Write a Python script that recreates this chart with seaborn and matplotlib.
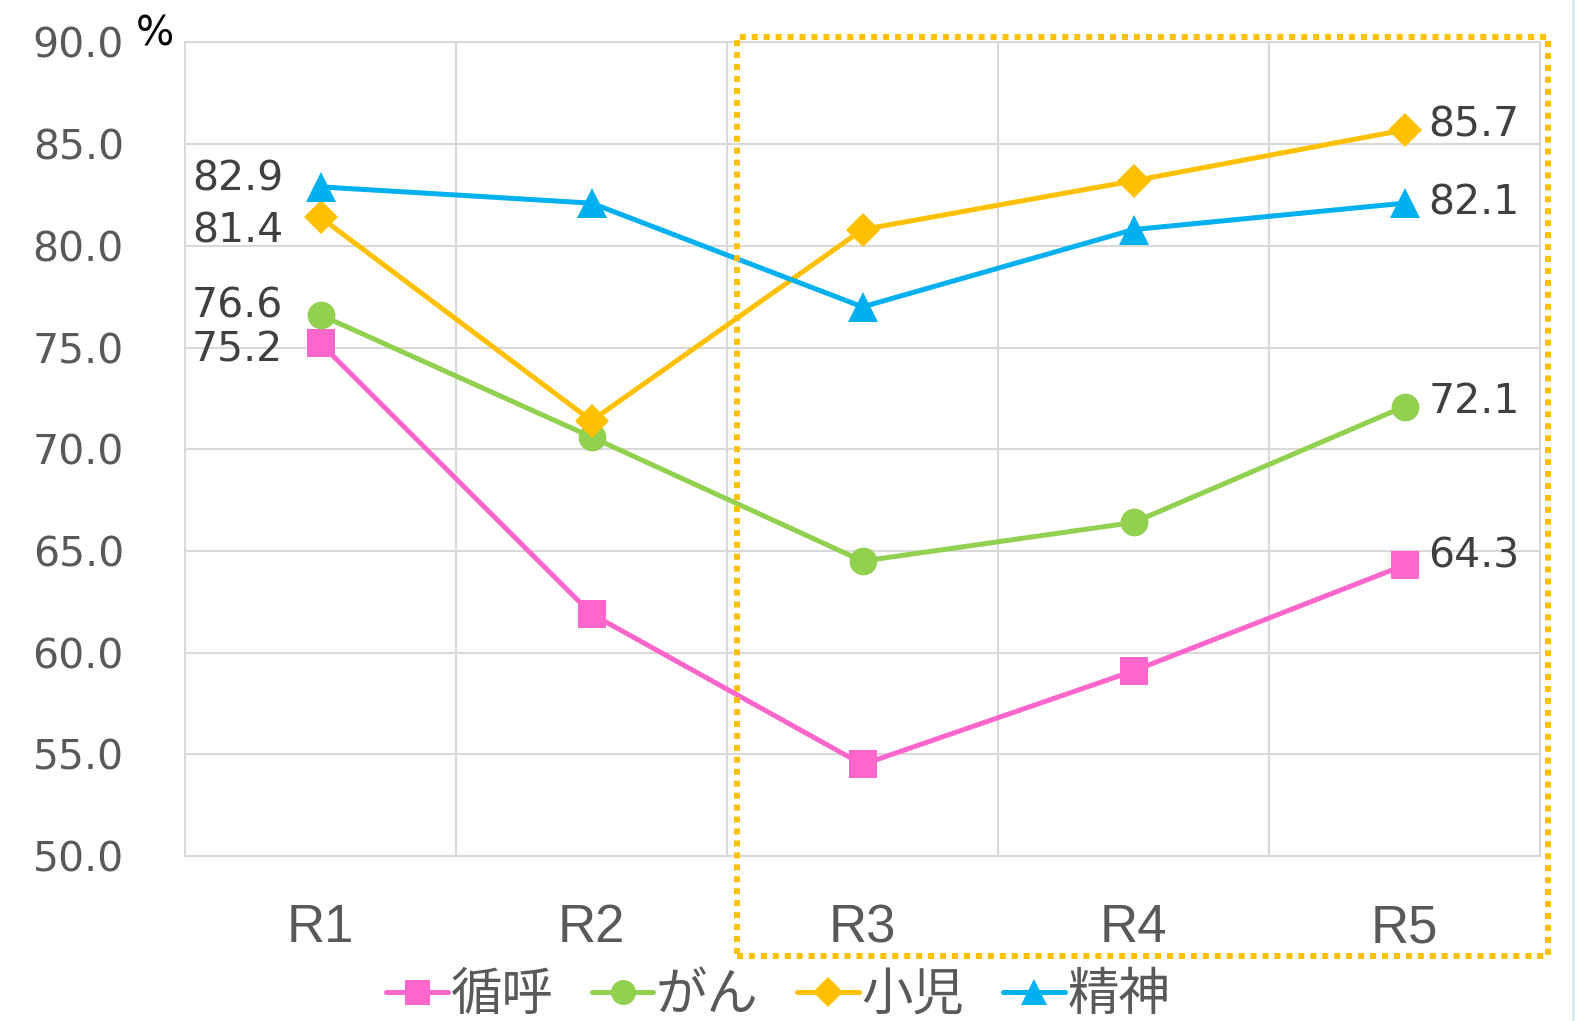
import pandas as pd
import matplotlib
matplotlib.use('Agg')
import matplotlib.pyplot as plt
import seaborn as sns
from matplotlib.patches import Rectangle

# data
years = ['R1', 'R2', 'R3', 'R4', 'R5']
junko = [75.2, 61.9, 54.5, 59.1, 64.3]    # 循呼
gan = [76.6, 70.6, 64.5, 66.4, 72.1]      # がん
shoni = [81.4, 71.4, 80.8, 83.2, 85.7]    # 小児
seishin = [82.9, 82.1, 77.0, 80.8, 82.1]  # 精神
series_names = ['循呼', 'がん', '小児', '精神']

sns.set_style('white')
plt.rcParams['font.family'] = ['Noto Sans CJK JP', 'DejaVu Sans']

colors = ['#FF66CC', '#92D050', '#FFC000', '#00B0F0']
markers = ['s', 'o', 'D', '^']
msizes = [20, 20, 17, 21]
# vertical nudges (points) for first / last value labels
first_dy = [-5, 6, -10, 5]
last_dy = [6, 3, 3, 0]

num_font = 'DejaVu Sans'

fig = plt.figure(figsize=(15.75, 10.21), dpi=100)
ax = fig.add_axes([0.1175, 0.1616, 0.8603, 0.7968])

for name, vals, c, m, ms, d0, d1 in zip(series_names, [junko, gan, shoni, seishin],
                                        colors, markers, msizes, first_dy, last_dy):
    df = pd.DataFrame({'year': years, 'value': vals})
    sns.lineplot(data=df, x='year', y='value', ax=ax, color=c, marker=m,
                 markersize=ms, markeredgewidth=0, linewidth=3.6, label=name)
    ax.annotate(f'{vals[0]:.1f}', (0, vals[0]), xytext=(-27, d0), textcoords='offset points',
                ha='right', va='center', fontsize=29.5, color='#404040', family=num_font)
    ax.annotate(f'{vals[-1]:.1f}', (4, vals[-1]), xytext=(17, d1), textcoords='offset points',
                ha='left', va='center', fontsize=29.5, color='#404040', family=num_font)

ax.set_xlim(-0.5, 4.5)
ax.set_ylim(50, 90)
ax.set_yticks(range(50, 91, 5))
ax.set_yticklabels([f'{v:.1f}' for v in range(50, 91, 5)], fontsize=29.5,
                   color='#595959', family=num_font)
ax.set_xticks(range(5))
ax.set_xticklabels(years, fontsize=38, color='#595959', family='Liberation Sans')
ax.set_xticks([0.5, 1.5, 2.5, 3.5], minor=True)
ax.tick_params(axis='y', length=0, pad=44)
ax.tick_params(axis='x', which='both', length=0, pad=34)
ax.grid(True, axis='y', color='#D9D9D9', linewidth=1.5)
ax.grid(True, axis='x', which='minor', color='#D9D9D9', linewidth=1.5)
ax.grid(False, axis='x', which='major')
ax.set_xlabel('')
ax.set_ylabel('')
for s in ax.spines.values():
    s.set_color('#D9D9D9')
    s.set_linewidth(1.5)

fig.text(0.086, 0.966, '%', fontsize=29, color='black', va='center', ha='left', family=num_font)

# dotted highlight around R3-R5
fig.patches.append(Rectangle((0.468, 0.0637), 0.515, 0.9001, transform=fig.transFigure,
                             fill=False, edgecolor='#FFC000', linewidth=4.3,
                             linestyle=(0, (1, 1)), zorder=5))
# faint strip on the right edge
fig.patches.append(Rectangle((0.9982, 0), 0.002, 1, transform=fig.transFigure,
                             facecolor='#D6EAF2', edgecolor='none'))

leg = ax.legend(loc='center', bbox_to_anchor=(0.494, 0.025), bbox_transform=fig.transFigure,
                ncol=4, frameon=False, fontsize=37, handlelength=1.2, handletextpad=0.05,
                columnspacing=0.75, markerscale=0.9)
for t in leg.get_texts():
    t.set_color('#595959')

fig.savefig('out.png', dpi=100)
